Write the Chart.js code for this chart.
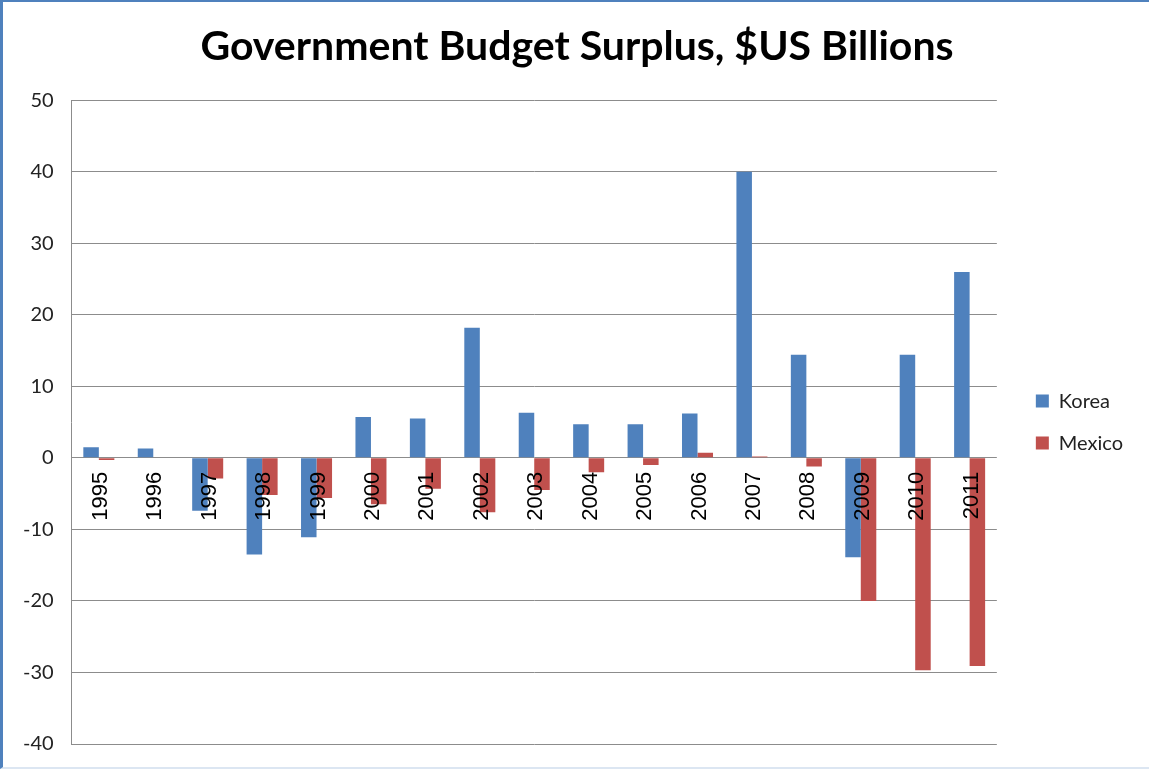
<!DOCTYPE html>
<html>
<head>
<meta charset="utf-8">
<script src="https://cdn.jsdelivr.net/npm/chart.js@4"></script>
<style>
  html, body { margin: 0; padding: 0; background: #fff; }
  #frame {
    width: 1149px; height: 769px; box-sizing: border-box;
    border-left: 3px solid #4f81bd; border-top: 2px solid #4f81bd;
    border-bottom: 2px solid #dce6f2;
  }
  #chart { display: block; }
</style>
</head>
<body>
<div id="frame"><canvas id="chart" width="1146" height="765"></canvas></div>
<script>
// Jahre (Kategorien)
const years = ['1995', '1996', '1997', '1998', '1999', '2000', '2001', '2002', '2003',
               '2004', '2005', '2006', '2007', '2008', '2009', '2010', '2011'];

// Haushaltssaldo in Mrd. US$
const korea  = [1.5, 1.3, -7.4, -13.5, -11.1, 5.7, 5.5, 18.2, 6.3, 4.7, 4.7, 6.2, 40.0, 14.4, -13.9, 14.4, 26.0];
const mexico = [-0.3, 0, -2.9, -5.2, -5.6, -6.5, -4.3, -7.6, -4.5, -2.0, -1.0, 0.7, 0.2, -1.2, -20.0, -29.7, -29.1];

// Achse
const yTicks = [-40, -30, -20, -10, 0, 10, 20, 30, 40, 50];

const ctx = document.getElementById('chart');

// Jahreszahlen an der Nulllinie (wie in Excel "neben Achse")
const yearLabels = {
    id: 'yearLabels',
    afterDatasetsDraw(chart) {
        const x = chart.scales.x;
        const y = chart.scales.y;
        const c = chart.ctx;
        const y0 = y.getPixelForValue(0) + 14;
        c.save();
        c.fillStyle = '#000';
        c.font = '22px "Liberation Sans", sans-serif';
        c.textAlign = 'right';
        c.textBaseline = 'middle';
        years.forEach((label, i) => {
            c.save();
            c.translate(x.getPixelForValue(i) + 2, y0);
            c.rotate(-Math.PI / 2);
            c.fillText(label, 0, 0);
            c.restore();
        });
        c.restore();
    }
};

const data = {
    labels: years,
    datasets: [
        { label: 'Korea', data: korea, backgroundColor: '#4f81bd' },
        { label: 'Mexico', data: mexico, backgroundColor: '#c0504d' }
    ]
};

// leere Hilfsachse, nur als fester Abstand
const spacer = (pos, w, weight) => ({
    position: pos,
    display: true,
    weight: weight,
    grid: { display: false },
    border: { display: false },
    ticks: { display: false },
    afterFit: (scale) => { scale.width = w; }
});

const config = {
    type: 'bar',
    data: data,
    plugins: [yearLabels],
    options: {
        responsive: false,
        animation: false,
        layout: { padding: { left: 2, right: 0, top: 0, bottom: 0 } },
        datasets: {
            bar: { barPercentage: 1.0, categoryPercentage: 0.57 }
        },
        scales: {
            x: {
                grid: { display: false },
                border: { display: false },
                ticks: { display: false },
                afterFit: (scale) => { scale.height = 23; }
            },
            y: {
                min: -40,
                max: 50,
                afterBuildTicks: (scale) => { scale.ticks = yTicks.map(v => ({ value: v })); },
                // Überstand der Beschriftung nicht als Rand reservieren
                afterFit: (scale) => { scale.paddingTop = 0; scale.paddingBottom = 0; },
                grid: { color: '#8c8c8c', lineWidth: 1, drawTicks: false },
                border: { color: '#8c8c8c' },
                ticks: {
                    color: '#222',
                    padding: 18,
                    font: { family: 'Lato, sans-serif', size: 20 }
                }
            },
            gap: spacer('right', 17, 0),
            gapOuter: spacer('right', 16, 2000)
        },
        plugins: {
            title: {
                display: true,
                text: 'Government Budget Surplus, $US Billions',
                color: '#000',
                font: { family: 'Lato, sans-serif', size: 41, weight: 'bold' },
                padding: { top: 20, bottom: 29 }
            },
            legend: {
                position: 'right',
                fullSize: false,
                labels: {
                    boxWidth: 13,
                    boxHeight: 13,
                    padding: 22,
                    color: '#222',
                    font: { family: 'Lato, sans-serif', size: 20 }
                }
            },
            tooltip: { enabled: false }
        }
    }
};

new Chart(ctx, config);
</script>
</body>
</html>
